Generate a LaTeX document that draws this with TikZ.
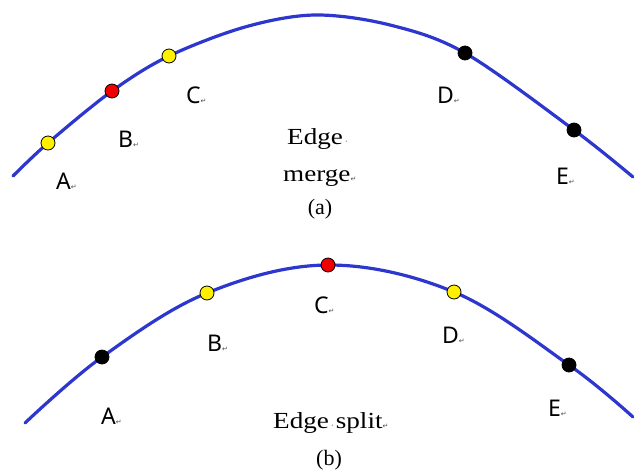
\documentclass[tikz,border=0pt]{standalone}
\usepackage{fontspec}
\setmainfont{Liberation Serif}
\newfontfamily\lblfont{Noto Sans}
\newfontfamily\markfont{DejaVu Sans}
\definecolor{curveblue}{RGB}{45,55,205}
\definecolor{dotyellow}{RGB}{255,240,0}
\definecolor{dotred}{RGB}{240,0,0}
\newcommand\pmk{{\markfont\fontsize{7}{7}\selectfont\color{black!70}↵}}
\newcommand\spk{\hbox to 0.3em{\hss{\markfont\fontsize{8}{8}\selectfont\color{black!70}·}\hss}}
\begin{document}
\begin{tikzpicture}[x=1pt,y=-1pt,
  curve/.style={draw=curveblue,line width=3.2pt,line cap=round},
  dotbase/.style={circle,draw=black,line width=0.8pt,minimum size=14pt,inner sep=0pt},
  ydot/.style={dotbase,fill=dotyellow},
  rdot/.style={dotbase,fill=dotred},
  kdot/.style={dotbase,fill=black},
  lbl/.style={anchor=base west,inner sep=0pt,font=\lblfont\fontsize{23}{23}\selectfont},
  caption/.style={inner sep=0pt,anchor=base west,font=\fontsize{23}{25}\selectfont},
  sub/.style={inner sep=0pt,anchor=base,font=\fontsize{22}{23}\selectfont}]
\useasboundingbox (0,0) rectangle (634,469);
% (a) curve
\draw[curve] plot[smooth,tension=0.55] coordinates {(13,176) (48,143) (112,91) (169,56) (245,27) (315,15) (390,25) (465,53) (574,130) (633,177)};
\node[ydot] (a1) at (48,143) {};
\node[rdot] (a2) at (112,91) {};
\node[ydot] (a3) at (169,56) {};
\node[kdot] (a4) at (465,53) {};
\node[kdot] (a5) at (574,130) {};
\node[lbl] (la1) at (56,189) {A\pmk};
\node[lbl] (la2) at (118,147) {B\pmk};
\node[lbl] (la3) at (186,103) {C\pmk};
\node[lbl] (la4) at (437,103) {D\pmk};
\node[lbl] (la5) at (556,184) {E\pmk};
\node[caption] (ta1) at (287,144) {\scalebox{1.18}[1]{Edge}\spk};
\node[caption] (ta2) at (283,181) {\scalebox{1.18}[1]{merge}\pmk};
\node[sub] (ca) at (320,214) {(a)};
% (b) curve
\draw[curve] plot[smooth,tension=0.6] coordinates {(25,423) (102,357) (207,293) (328,265) (454,292) (569,365) (633,417)};
\node[kdot] (b1) at (102,357) {};
\node[ydot] (b2) at (207,293) {};
\node[rdot] (b3) at (328,265) {};
\node[ydot] (b4) at (454,292) {};
\node[kdot] (b5) at (569,365) {};
\node[lbl] (lb1) at (101,424) {A\pmk};
\node[lbl] (lb2) at (207,351) {B\pmk};
\node[lbl] (lb3) at (314,313) {C\pmk};
\node[lbl] (lb4) at (442,343) {D\pmk};
\node[lbl] (lb5) at (548,416) {E\pmk};
\node[caption] (tb1) at (273,428) {\scalebox{1.18}[1]{Edge}\spk\scalebox{1.18}[1]{split}\pmk};
\node[sub] (cb) at (329,465) {(b)};
\end{tikzpicture}
\end{document}
